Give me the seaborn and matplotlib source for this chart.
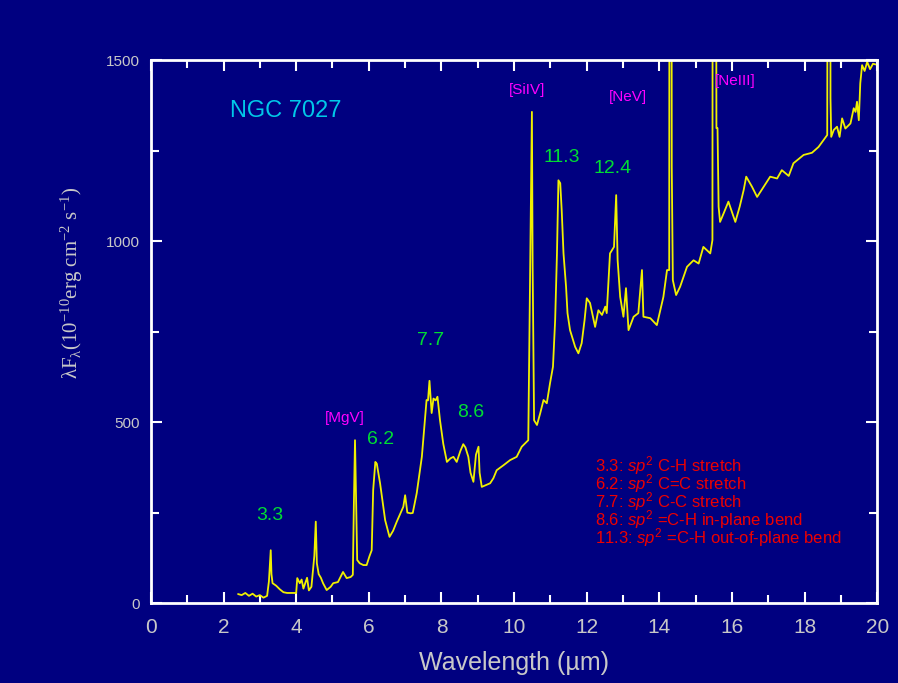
import matplotlib
matplotlib.use('Agg')
import matplotlib.pyplot as plt
import seaborn as sns
import pandas as pd

# Data: spectrum of NGC 7027 (peaks above 1500 are clipped)
wavelength = [2.4, 2.5, 2.6, 2.7, 2.8, 2.9, 3.0, 3.1, 3.2, 3.25, 3.30, 3.32, 3.35, 3.45, 3.55, 3.65, 3.75, 4.0,
              4.03, 4.1, 4.15, 4.2, 4.3, 4.35, 4.42, 4.50, 4.54, 4.57, 4.62, 4.68, 4.74, 4.84, 4.95, 5.02, 5.15,
              5.29, 5.39, 5.50, 5.56, 5.59, 5.62, 5.65, 5.68, 5.75, 5.85, 5.94, 6.02, 6.08, 6.12, 6.18, 6.22,
              6.31, 6.45, 6.57, 6.67, 6.77, 6.88, 6.95, 7.00, 7.06, 7.15, 7.21, 7.32, 7.46, 7.59, 7.63, 7.67,
              7.73, 7.78, 7.84, 7.89, 7.96, 8.05, 8.15, 8.25, 8.33, 8.42, 8.52, 8.60, 8.66, 8.74, 8.80, 8.88,
              8.95, 9.02, 9.05, 9.11, 9.2, 9.34, 9.43, 9.52, 9.71, 9.89, 10.07, 10.21, 10.39, 10.44, 10.49,
              10.51, 10.55, 10.63, 10.72, 10.81, 10.90, 10.99, 11.07, 11.13, 11.18, 11.22, 11.27, 11.31, 11.36,
              11.43, 11.47, 11.54, 11.68, 11.77, 11.86, 11.94, 12.00, 12.09, 12.23, 12.32, 12.42, 12.51, 12.55,
              12.64, 12.75, 12.81, 12.85, 12.92, 13.01, 13.08, 13.15, 13.29, 13.42, 13.52, 13.56, 13.75, 13.93,
              14.11, 14.21, 14.27, 14.28, 14.33, 14.34, 14.37, 14.46, 14.57, 14.76, 14.94, 15.08, 15.21, 15.40,
              15.46, 15.47, 15.55, 15.57, 15.60, 15.63, 15.67, 15.77, 15.90, 16.09, 16.21, 16.32, 16.39, 16.55,
              16.69, 16.87, 17.05, 17.24, 17.37, 17.56, 17.69, 17.97, 18.20, 18.38, 18.52, 18.62, 18.64, 18.70,
              18.71, 18.73, 18.80, 18.89, 18.96, 19.03, 19.12, 19.26, 19.35, 19.40, 19.44, 19.49, 19.53, 19.58,
              19.65, 19.72, 19.80, 19.88, 19.95]
flux = [25, 22, 28, 20, 26, 18, 22, 15, 20, 60, 146, 80, 55, 48, 38, 30, 28, 28,
        69, 55, 65, 40, 70, 35, 45, 130, 225, 110, 80, 70, 55, 36, 45, 55, 58,
        86, 69, 72, 78, 280, 450, 280, 119, 110, 105, 105, 130, 146, 312, 390, 385,
        331, 229, 183, 200, 225, 250, 266, 298, 250, 248, 249, 304, 404, 561, 560, 614,
        525, 565, 560, 570, 505, 440, 390, 400, 404, 390, 420, 439, 430, 404, 360, 335,
        410, 432, 360, 321, 325, 331, 345, 367, 381, 395, 404, 432, 450, 901, 1357,
        929, 505, 492, 525, 561, 552, 608, 653, 782, 966, 1168, 1160, 1086, 966,
        874, 801, 754, 708, 690, 718, 782, 842, 829, 763, 809, 796, 819, 801,
        966, 984, 1127, 947, 846, 791, 870, 754, 791, 801, 920, 791, 787, 768,
        846, 920, 920, 2500, 2500, 1205, 892, 851, 874, 929, 947, 938, 984, 966,
        1003, 2500, 2500, 1312, 1312, 1095, 1053, 1077, 1109, 1053, 1095, 1141, 1178, 1150,
        1122, 1150, 1178, 1173, 1196, 1180, 1215, 1238, 1244, 1260, 1279, 1293, 2500, 2500,
        1395, 1288, 1307, 1316, 1288, 1339, 1311, 1325, 1367, 1357, 1385, 1334, 1436, 1486,
        1470, 1495, 1475, 1490, 1488]

# feature labels (text, x, y)
pah_labels = ['3.3', '6.2', '7.7', '8.6', '11.3', '12.4']
pah_x = [3.28, 6.31, 7.71, 8.81, 11.31, 12.71]
pah_y = [243, 453, 726, 526, 1231, 1201]

ion_labels = ['[MgV]', '[SiIV]', '[NeV]', '[NeIII]']
ion_x = [5.34, 10.35, 13.13, 16.10]
ion_y = [511, 1417, 1399, 1441]

notes = [r'3.3: $sp^2$ C-H stretch',
         r'6.2: $sp^2$ C=C stretch',
         r'7.7: $sp^2$ C-C stretch',
         r'8.6: $sp^2$ =C-H in-plane bend',
         r'11.3: $sp^2$ =C-H out-of-plane bend']

df = pd.DataFrame({'Wavelength': wavelength, 'Flux': flux})

navy = '#000080'
grey = '#c8c8c8'
sns.set_theme(style='ticks', rc={'figure.facecolor': navy, 'axes.facecolor': navy,
                                 'axes.edgecolor': 'white', 'savefig.facecolor': navy})
plt.rcParams['font.family'] = ['Liberation Sans', 'DejaVu Sans']
plt.rcParams['mathtext.fontset'] = 'custom'
plt.rcParams['mathtext.rm'] = 'Liberation Sans'
plt.rcParams['mathtext.it'] = 'Liberation Sans:italic'

fig = plt.figure(figsize=(8.98, 6.83), dpi=100)
ax = fig.add_axes([0.168, 0.117, 0.809, 0.795])

sns.lineplot(data=df, x='Wavelength', y='Flux', ax=ax, color='#f0f000', linewidth=1.3)

ax.set_xlim(0, 20)
ax.set_ylim(0, 1500)
ax.set_xticks(range(0, 21, 2))
ax.set_xticks(range(1, 20, 2), minor=True)
ax.set_yticks([0, 500, 1000, 1500])
ax.set_yticks([250, 750, 1250], minor=True)
for s in ax.spines.values():
    s.set_color('white')
    s.set_linewidth(2)
ax.tick_params(which='both', direction='in', colors='white', top=True, right=True, width=1.5)
ax.tick_params(which='major', length=8)
ax.tick_params(which='minor', length=6)
ax.tick_params(axis='x', labelcolor=grey, labelsize=15, pad=11)
ax.tick_params(axis='y', labelcolor=grey, labelsize=11, pad=8)

ax.set_xlabel('Wavelength (µm)', color=grey, fontsize=18, labelpad=10)
ax.set_ylabel(r'λF$_{\mathregular{λ}}$(10$^{\mathregular{-10}}$erg cm$^{\mathregular{-2}}$ s$^{\mathregular{-1}}$)',
              color=grey, fontsize=15, fontfamily='Liberation Serif')
ax.yaxis.set_label_coords(-0.09, 0.59)

ax.text(3.72, 1359, 'NGC 7027', color='#00c8e8', fontsize=17, ha='center', va='center')
for t, x, y in zip(pah_labels, pah_x, pah_y):
    ax.text(x, y, t, color='#00dd33', fontsize=14, ha='center', va='center')
for t, x, y in zip(ion_labels, ion_x, ion_y):
    ax.text(x, y, t, color='#ff00ff', fontsize=11, ha='center', va='center')
# the five band notes as one block
ax.text(12.23, 412, '\n'.join(notes), color='#ee0000', fontsize=12, ha='left', va='top',
        linespacing=0.72)

fig.savefig('out.png', dpi=100)
